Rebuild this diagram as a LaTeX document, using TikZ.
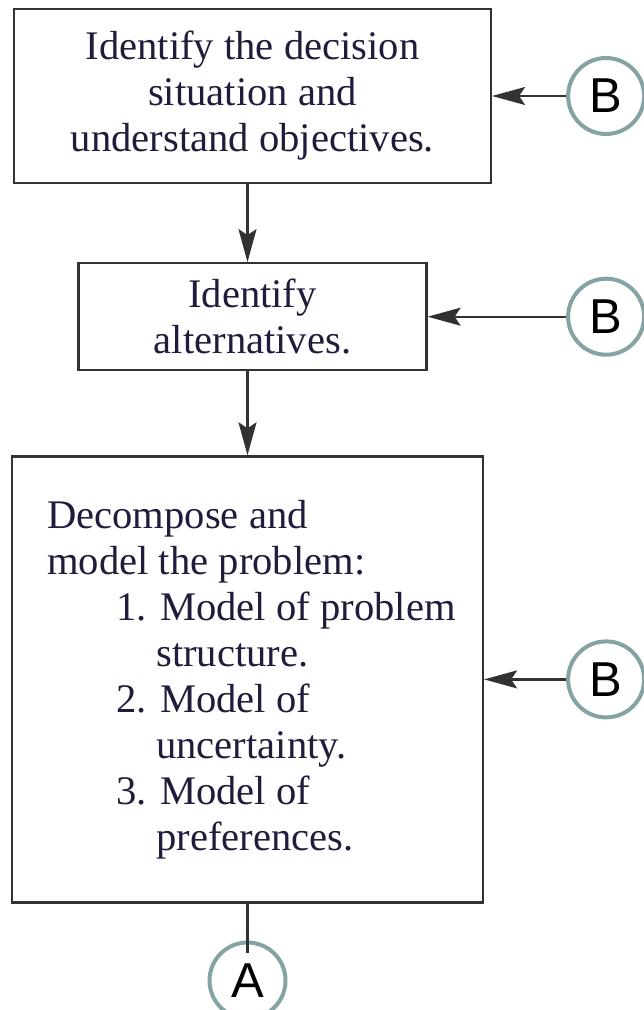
\documentclass[tikz,border=0pt]{standalone}
\usepackage{fontspec}
\setmainfont{Liberation Serif}
\newfontfamily\ringfont{Liberation Sans}
\usetikzlibrary{arrows.meta,positioning}
\definecolor{inkline}{RGB}{50,50,50}
\definecolor{inktext}{RGB}{30,30,60}
\definecolor{ringgray}{RGB}{133,163,163}

\begin{document}
\begin{tikzpicture}[x=0.5pt,y=-0.5pt,>={Stealth[length=16.5pt,width=9pt,inset=3pt]},
		box/.style={draw=inkline, line width=1.1pt, text=inktext, align=center, inner sep=0pt, font=\fontsize{20.3}{23}\selectfont},
		ring/.style={draw=ringgray, line width=2pt, circle, minimum size=38pt, inner sep=0pt, font=\ringfont\fontsize{24.5}{28}\selectfont},
		conn/.style={draw=inkline, line width=1.1pt}]
		\useasboundingbox (0,0) rectangle (643,1010);
		\node [box, minimum width=238.5pt, minimum height=87pt] (a) at (252.5,96) {Identify the decision\\situation and\\understand objectives.};
		\node [box, minimum width=174pt, minimum height=53.5pt] (b) [below=39pt of a] {Identify\\alternatives.};
		\node [box, minimum width=235.5pt, minimum height=223pt, align=left, xshift=-2.5pt] (c) [below=42pt of b] {\hspace*{4pt}Decompose and\\\hspace*{4pt}model the problem:\\
			\hspace*{38.5pt}1. Model of problem\\\hspace*{58.5pt}structure.\\
			\hspace*{38.5pt}2. Model of\\\hspace*{58.5pt}uncertainty.\\
			\hspace*{38.5pt}3. Model of\\\hspace*{58.5pt}preferences.};
		
		\node [ring] (ra) [right=37pt of a] {B};
		\node [ring] (rb) at (ra |- b) {B};
		\node [ring] (rc) at (ra |- c) {B};
		\node [ring] (sa) [below=18.5pt of c] {A};
		
		\draw [conn,->] (ra) -- (a);
		\draw [conn,->] (rb) -- (b);
		\draw [conn,->] (rc) -- (c);
		\draw [conn,->] (a.south -| c.north) -- (b.north -| c.north);
		\draw [conn,->] (b.south -| c.north) -- (c.north);
		\draw [conn] (c.south) -- ([yshift=-6pt]sa.north);
\end{tikzpicture}
\end{document}
